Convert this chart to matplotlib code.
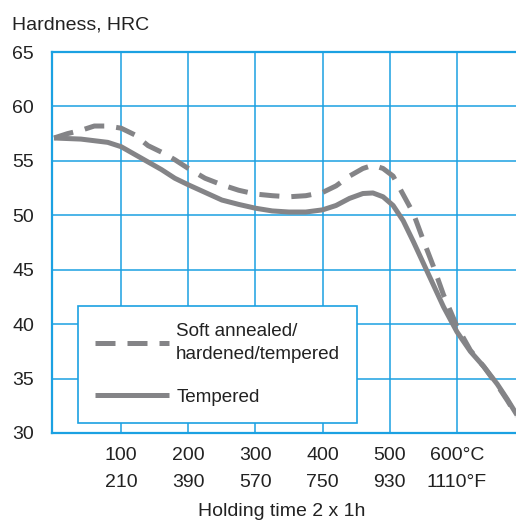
import matplotlib
matplotlib.use("Agg")
import matplotlib.pyplot as plt

plt.rcParams['font.family'] = ['Liberation Sans', 'DejaVu Sans']

# holding temperature, deg C
temp = [0, 20, 40, 60, 80, 100, 120, 140, 160, 180, 200, 225, 250, 275, 300, 325,
        350, 375, 400, 420, 440, 460, 475, 490, 505, 520, 535, 550, 565, 580, 600,
        620, 640, 660, 675, 690]
soft_annealed = [57.1, 57.5, 57.8, 58.2, 58.2, 58.0, 57.4, 56.4, 55.8, 55.1, 54.3,
                 53.4, 52.8, 52.3, 51.95, 51.8, 51.7, 51.8, 52.1, 52.7, 53.6, 54.3,
                 54.6, 54.3, 53.6, 51.9, 50.2, 47.7, 45.3, 42.7, 39.8, 37.6, 36.1,
                 34.4, 33.0, 31.5]
tempered = [57.1, 57.05, 57.0, 56.85, 56.7, 56.3, 55.6, 54.9, 54.2, 53.4, 52.8,
            52.1, 51.4, 51.0, 50.65, 50.4, 50.3, 50.3, 50.5, 50.9, 51.55, 52.0,
            52.05, 51.7, 50.9, 49.5, 47.6, 45.6, 43.6, 41.6, 39.3, 37.5, 36.1,
            34.5, 33.1, 31.6]

xticks = [100, 200, 300, 400, 500, 600]
xlabels = ["100\n210", "200\n390", "300\n570", "400\n750", "500\n930", "600°C\n1110°F"]
yticks = [30, 35, 40, 45, 50, 55, 60, 65]

blue = "#1ba1e2"
grey = "#848487"
ink = "#222222"

fig = plt.figure(figsize=(5.16, 5.20), dpi=100)
ax = fig.add_axes([52 / 516, 1 - 433 / 520, 1 - 52 / 516, (433 - 52) / 520])

ax.plot(temp, soft_annealed, color=grey, lw=3.6, ls=(0, (4, 2.4)),
        dash_capstyle='butt', dash_joinstyle='round', label="Soft annealed/\nhardened/tempered")
ax.plot(temp, tempered, color=grey, lw=3.6, solid_joinstyle='round',
        solid_capstyle='butt', label="Tempered")

ax.set_xlim(-3, 688)
ax.set_ylim(30, 65)
ax.set_xticks(xticks)
ax.set_xticklabels(xlabels, linespacing=1.75)
ax.set_yticks(yticks)
ax.tick_params(length=0, labelsize=14, labelcolor=ink)
ax.tick_params(axis='y', pad=13)
ax.tick_params(axis='x', pad=10)
ax.grid(True, color=blue, lw=1.1)
ax.set_axisbelow(True)
for s in ['left', 'bottom', 'top']:
    ax.spines[s].set_color(blue)
    ax.spines[s].set_linewidth(1.6)
ax.spines['right'].set_visible(False)

leg = ax.legend(loc='lower left', bbox_to_anchor=(26 / 464, 10 / 381), borderaxespad=0,
                fontsize=13.6, handlelength=3.9, handletextpad=0.4, labelspacing=1.35,
                borderpad=0.9, fancybox=False, framealpha=1)
leg.get_frame().set_edgecolor(blue)
leg.get_frame().set_linewidth(1.2)
for t in leg.get_texts():
    t.set_color(ink)
    t.set_linespacing(1.45)

fig.text(12 / 516, 1 - 29 / 520, "Hardness, HRC", fontsize=14, color=ink, va='baseline')
fig.text(282 / 516, 1 - 516 / 520, "Holding time 2 x 1h", fontsize=14, color=ink,
         ha='center', va='baseline')

fig.savefig("out.png", dpi=100)
